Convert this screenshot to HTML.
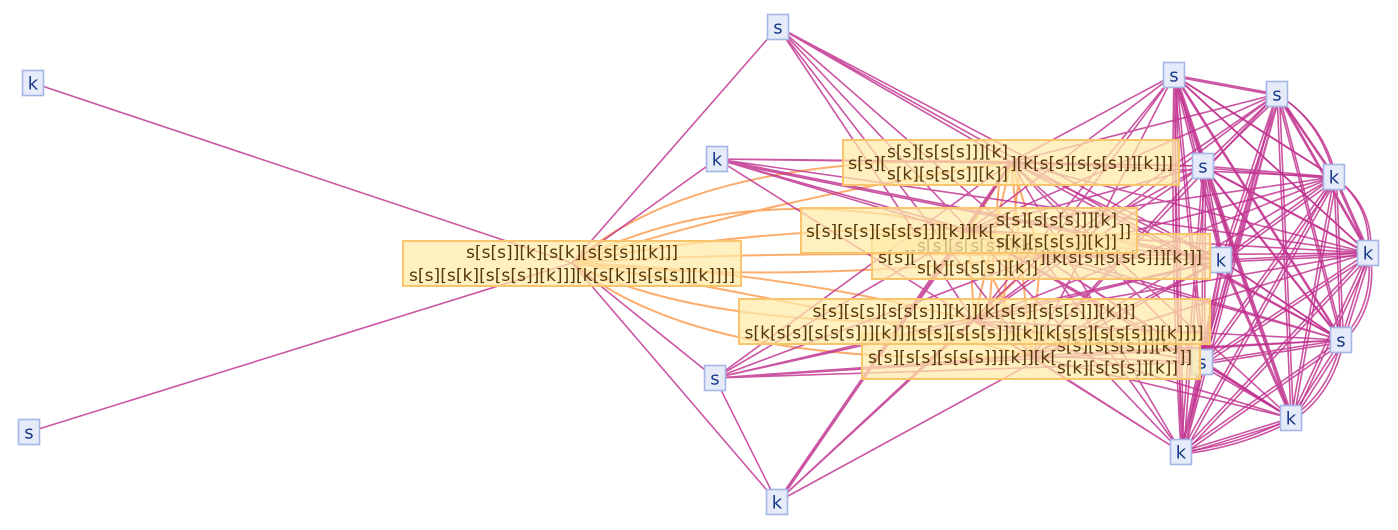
<!DOCTYPE html>
<html><head><meta charset="utf-8"><style>
html,body{margin:0;padding:0;background:#fff;width:1398px;height:530px;overflow:hidden}
svg{display:block}
.m{fill:none;stroke:#c0308e;stroke-opacity:.82;stroke-width:1.6}
.o{fill:none;stroke:#fca45e;stroke-opacity:.9;stroke-width:2}
.sn rect{fill:#e5ebf8;stroke:#a3b6e6;stroke-width:1.6}
.sn text{fill:#1b3a8a;font-size:18px;text-anchor:middle}
.bx rect{fill:#ffeaa8;fill-opacity:.72;stroke:#f8c46c;stroke-width:2}
.bx text{fill:#553708;font-size:17px}
</style></head><body>
<svg width="1398" height="530" viewBox="0 0 1398 530" xmlns="http://www.w3.org/2000/svg" font-family="'DejaVu Sans','Liberation Sans',sans-serif">
<rect width="1398" height="530" fill="#fff"/>
<!-- orange edges -->
<path class="o" d="M572 263Q700 150 1011 162M572 263Q760 200 1011 162M572 263Q740 175 969 230M572 263Q760 225 969 230M572 263Q760 250 1041 256M572 263Q780 285 1041 256M572 263Q700 330 974 321M572 263Q780 270 974 321M572 263Q700 370 1031 356M572 263Q800 300 1031 356"/>
<path class="o" d="M1011 162L974 321M1011 162L1031 356M969 230L974 321M969 230L1031 356M1041 256L974 321M1041 256L1031 356M1011 162L969 230M1011 162L1041 256M974 321L1031 356M969 230L1041 256M1000 170L990 300M1020 170L1000 330"/>
<!-- magenta edges -->
<path class="m" d="M33 83L572 263M29 432L572 263M572 263L778 27M572 263L717 159M572 263L715 378M572 263L777 502M715 378L777 502"/>
<path class="m" d="M778 27L1011 162M778 27L969 230M778 27L1041 256M778 27L974 321M778 27L1031 356M778 27L1221 260M778 27L1341 340M717 159L1011 162M717 159L969 230M717 159L1041 256M717 159L974 321M717 159L1203 166M717 159L1221 260M719 161L1221 262M717 159L1368 253M715 378L1011 162M715 378L969 230M715 378L1041 256M715 378L974 321M715 378L1031 356M715 378L1202 362M715 378L1221 260M715 378L1341 340M777 502L1011 162M779 502L1013 162M777 502L969 230M777 502L1041 256M777 502L974 321M777 502L1221 260"/>
<path class="m" d="M1011 162L1174 75M1011 162L1277 94M1011 162L1203 166M1011 162L1334 177M1011 162L1368 253M1011 162L1221 260M1011 162L1341 340M1011 162L1202 362M1011 162L1291 418M1011 162L1181 452M969 230L1174 75M969 230L1277 94M969 230L1203 166M969 230L1334 177M969 230L1368 253M969 230L1221 260M969 230L1341 340M969 230L1202 362M969 230L1291 418M969 230L1181 452M1041 256L1174 75M1041 256L1277 94M1041 256L1203 166M1041 256L1334 177M1041 256L1368 253M1041 256L1221 260M1041 256L1341 340M1041 256L1202 362M1041 256L1291 418M1041 256L1181 452M974 321L1174 75M974 321L1277 94M974 321L1203 166M974 321L1334 177M974 321L1368 253M974 321L1221 260M974 321L1341 340M974 321L1202 362M974 321L1291 418M974 321L1181 452M1031 356L1174 75M1031 356L1277 94M1031 356L1203 166M1031 356L1334 177M1031 356L1368 253M1031 356L1221 260M1031 356L1341 340M1031 356L1202 362M1031 356L1291 418M1031 356L1181 452"/>
<path id="cc" class="m" d="M1174 75L1277 94M1174 75L1203 166M1174 75L1334 177M1174 75L1368 253M1174 75L1221 260M1174 75L1341 340M1174 75L1202 362M1174 75L1291 418M1174 75L1181 452M1277 94L1203 166M1277 94L1334 177M1277 94L1368 253M1277 94L1221 260M1277 94L1341 340M1277 94L1202 362M1277 94L1291 418M1277 94L1181 452M1203 166L1334 177M1203 166L1368 253M1203 166L1221 260M1203 166L1341 340M1203 166L1202 362M1203 166L1291 418M1203 166L1181 452M1334 177L1368 253M1334 177L1221 260M1334 177L1341 340M1334 177L1202 362M1334 177L1291 418M1334 177L1181 452M1368 253L1221 260M1368 253L1341 340M1368 253L1202 362M1368 253L1291 418M1368 253L1181 452M1221 260L1341 340M1221 260L1202 362M1221 260L1291 418M1221 260L1181 452M1341 340L1202 362M1341 340L1291 418M1341 340L1181 452M1202 362L1291 418M1202 362L1181 452M1291 418L1181 452M1334 177Q1372 205 1368 253M1368 253Q1375 305 1341 340M1341 340Q1330 392 1291 418M1277 94Q1322 122 1334 177M1174 75Q1170 260 1181 452M1181 452Q1240 445 1291 418"/>
<use href="#cc" transform="translate(2.5,2)"/>
<!-- small nodes -->
<g class="sn">
<rect x="22.5" y="70.5" width="21" height="25"/><text x="33" y="89.5">k</text>
<rect x="18.5" y="419.5" width="21" height="25"/><text x="29" y="438.5">s</text>
<rect x="767.5" y="14.5" width="21" height="25"/><text x="778" y="33.5">s</text>
<rect x="706.5" y="146.5" width="21" height="25"/><text x="717" y="165.5">k</text>
<rect x="704.5" y="365.5" width="21" height="25"/><text x="715" y="384.5">s</text>
<rect x="766.5" y="489.5" width="21" height="25"/><text x="777" y="508.5">k</text>
<rect x="1163.5" y="62.5" width="21" height="25"/><text x="1174" y="81.5">s</text>
<rect x="1266.5" y="81.5" width="21" height="25"/><text x="1277" y="100.5">s</text>
<rect x="1192.5" y="153.5" width="21" height="25"/><text x="1203" y="172.5">s</text>
<rect x="1323.5" y="164.5" width="21" height="25"/><text x="1334" y="183.5">k</text>
<rect x="1357.5" y="240.5" width="21" height="25"/><text x="1368" y="259.5">k</text>
<rect x="1210.5" y="247.5" width="21" height="25"/><text x="1221" y="266.5">k</text>
<rect x="1330.5" y="327.5" width="21" height="25"/><text x="1341" y="346.5">s</text>
<rect x="1191.5" y="349.5" width="21" height="25"/><text x="1202" y="368.5">s</text>
<rect x="1280.5" y="405.5" width="21" height="25"/><text x="1291" y="424.5">k</text>
<rect x="1170.5" y="439.5" width="21" height="25"/><text x="1181" y="458.5">k</text>
</g>
<!-- big boxes -->
<g class="bx">
<rect x="872" y="234" width="338" height="45"/>
<text x="878" y="263" textLength="39" lengthAdjust="spacingAndGlyphs">s[s][</text>
<text x="917" y="251.5" textLength="121" lengthAdjust="spacingAndGlyphs">s[s][s[s[s]]][k]</text>
<text x="917" y="273.5" textLength="121" lengthAdjust="spacingAndGlyphs">s[k][s[s[s]][k]]</text>
<text x="1039" y="263" textLength="163" lengthAdjust="spacingAndGlyphs">][k[s[s][s[s[s]]][k]]]</text>
</g>
<g class="bx">
<rect x="801" y="208" width="336" height="45"/>
<text x="806" y="237" textLength="189" lengthAdjust="spacingAndGlyphs">s[s][s[s][s[s[s]]][k]][k[</text>
<text x="996" y="225.5" textLength="121" lengthAdjust="spacingAndGlyphs">s[s][s[s[s]]][k]</text>
<text x="996" y="247.5" textLength="121" lengthAdjust="spacingAndGlyphs">s[k][s[s[s]][k]]</text>
<text x="1118" y="237" textLength="13" lengthAdjust="spacingAndGlyphs">]]</text>
</g>
<g class="bx">
<rect x="862" y="334" width="338" height="45"/>
<text x="868" y="363" textLength="189" lengthAdjust="spacingAndGlyphs">s[s][s[s][s[s[s]]][k]][k[</text>
<text x="1057" y="351.5" textLength="121" lengthAdjust="spacingAndGlyphs">s[s][s[s[s]]][k]</text>
<text x="1057" y="373.5" textLength="121" lengthAdjust="spacingAndGlyphs">s[k][s[s[s]][k]]</text>
<text x="1179" y="363" textLength="13" lengthAdjust="spacingAndGlyphs">]]</text>
</g>
<g class="bx">
<rect x="739" y="299" width="471" height="45"/>
<text x="974" y="317" text-anchor="middle" textLength="323" lengthAdjust="spacingAndGlyphs">s[s][s[s][s[s[s]]][k]][k[s[s][s[s[s]]][k]]]</text>
<text x="974" y="338.5" text-anchor="middle" textLength="459" lengthAdjust="spacingAndGlyphs">s[k[s[s][s[s[s]]][k]]][s[s][s[s[s]]][k][k[s[s][s[s[s]]][k]]]]</text>
</g>
<g class="bx">
<rect x="843" y="140" width="336" height="45"/>
<text x="848" y="169" textLength="39" lengthAdjust="spacingAndGlyphs">s[s][</text>
<text x="887" y="157.5" textLength="121" lengthAdjust="spacingAndGlyphs">s[s][s[s[s]]][k]</text>
<text x="887" y="179.5" textLength="121" lengthAdjust="spacingAndGlyphs">s[k][s[s[s]][k]]</text>
<text x="1010" y="169" textLength="163" lengthAdjust="spacingAndGlyphs">][k[s[s][s[s[s]]][k]]]</text>
</g>
<g class="bx">
<rect x="403" y="241" width="338" height="45"/>
<text x="572" y="258" text-anchor="middle" textLength="212" lengthAdjust="spacingAndGlyphs">s[s[s]][k][s[k][s[s[s]][k]]]</text>
<text x="572" y="281" text-anchor="middle" textLength="326" lengthAdjust="spacingAndGlyphs">s[s][s[k][s[s[s]][k]]][k[s[k][s[s[s]][k]]]]</text>
</g>
</svg>
</body></html>
